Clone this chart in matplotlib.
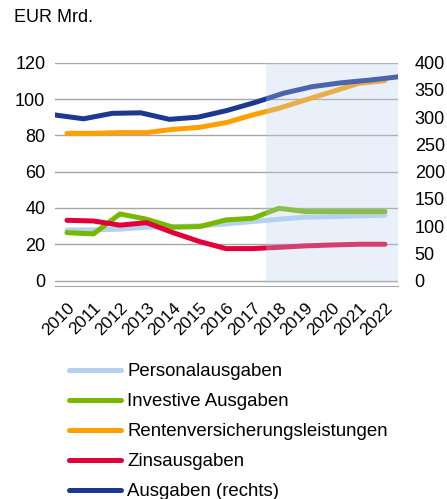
import matplotlib
matplotlib.use("Agg")
import matplotlib.pyplot as plt
from matplotlib.patches import Rectangle

plt.rcParams['font.family'] = ['Liberation Sans', 'DejaVu Sans']

# Data (EUR Mrd.)
years = ["2010", "2011", "2012", "2013", "2014", "2015", "2016",
         "2017", "2018", "2019", "2020", "2021", "2022"]
personal = [27.9, 27.9, 28.3, 29.4, 29.7, 30.1, 31.2, 32.5, 33.8, 34.9, 35.2, 35.6, 36.0]
investiv = [26.4, 25.7, 36.7, 33.8, 29.4, 29.7, 33.4, 34.3, 39.8, 38.0, 38.0, 38.0, 38.0]
rente = [81.1, 81.1, 81.5, 81.5, 83.3, 84.4, 87.0, 91.2, 94.9, 99.5, 104.0, 108.6, 110.1]
zins = [33.2, 32.8, 30.5, 31.9, 26.4, 21.5, 17.6, 17.6, 18.3, 19.1, 19.6, 20.0, 20.0]
ausgaben = [304, 297, 307, 308, 296, 300, 312, 327, 344, 356, 363, 368, 374]  # right axis

c_personal = "#b4d2f0"
c_investiv = "#76b900"
c_rente = "#ffa000"
c_zins = "#e2003a"
c_ausgaben = "#1c3891"

fig = plt.figure(figsize=(4.47, 4.99), dpi=100)
rect = [55 / 447, 1 - 286 / 499, 343 / 447, (286 - 62.7) / 499]
ax = fig.add_axes(rect)
ax2 = fig.add_axes(rect, frameon=False)

x = list(range(len(years)))
lw = 3.6
ax.plot(x, personal, color=c_personal, lw=lw, solid_capstyle="round", label="Personalausgaben")
ax.plot(x, investiv, color=c_investiv, lw=lw, solid_capstyle="round", label="Investive Ausgaben")
ax.plot(x, rente, color=c_rente, lw=lw, solid_capstyle="round", label="Rentenversicherungsleistungen")
ax.plot(x, zins, color=c_zins, lw=lw, solid_capstyle="round", label="Zinsausgaben")
l5, = ax2.plot(x, ausgaben, color=c_ausgaben, lw=lw, solid_capstyle="round", label="Ausgaben (rechts)")

ax.set_xlim(-12 / 26.5, 12 + 13 / 26.5)
ax.set_ylim(-3, 120)
ax.set_yticks([0, 20, 40, 60, 80, 100, 120])
ax.set_xticks(x)
ax.set_xticklabels(years, rotation=45, ha="right", va="top", rotation_mode="anchor")
ax.tick_params(axis="x", length=0, pad=10, labelsize=12.5)
ax.tick_params(axis="y", length=0, pad=7, labelsize=13)
ax.grid(axis="y", color="#a6a6a6", lw=1)
ax.set_axisbelow(True)
for s in ["top", "right", "left"]:
    ax.spines[s].set_visible(False)
ax.spines["bottom"].set_color("#a6a6a6")

ax2.set_xlim(0, 12)
ax2.set_ylim(-10, 400)
ax2.set_xticks([])
ax2.yaxis.tick_right()
ax2.set_yticks([0, 50, 100, 150, 200, 250, 300, 350, 400])
ax2.tick_params(axis="y", length=0, pad=12, labelsize=13)

# projection shading (drawn on top, semi-transparent)
ax2.add_patch(Rectangle((7.5, -1.1), 12 + 13 / 26.5 - 7.5, 121.1, transform=ax.transData,
                        facecolor="#b9d0ee", alpha=0.3, edgecolor="none", zorder=10))

fig.text(14 / 447, 1 - 18 / 499, "EUR Mrd.", fontsize=13, va="center", ha="left")

h, l = ax.get_legend_handles_labels()
fig.legend(h + [l5], l + [l5.get_label()], loc="upper left",
           bbox_to_anchor=(69 / 447, 1 - 363 / 499), frameon=False, fontsize=13.4,
           handlelength=2.8, handletextpad=0.32, labelspacing=0.7, borderpad=0,
           borderaxespad=0)

fig.savefig("out.png", dpi=100)
